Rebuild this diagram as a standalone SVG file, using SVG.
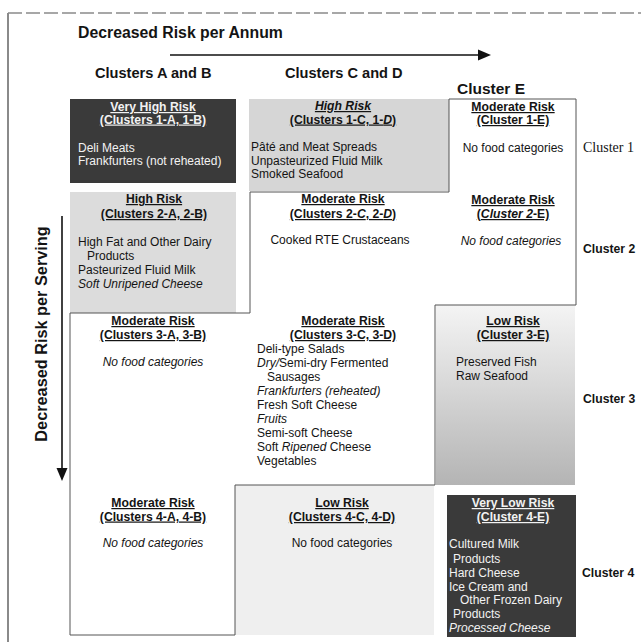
<svg xmlns="http://www.w3.org/2000/svg" width="641" height="642" viewBox="0 0 641 642">
<defs>
<style>
text{font-family:"Liberation Sans",Arial,sans-serif;fill:#141414}
.ttl{font-size:15.8px;font-weight:bold}
.col{font-size:14.6px;font-weight:bold}
.hd{font-size:12.2px;font-weight:bold;text-anchor:middle;text-decoration:underline}
.it{font-size:12px}
.c{text-anchor:middle}
.i{font-style:italic}
.wt{fill:#f2f2f2}
.lab{font-size:12.2px;font-weight:bold}
.dark{fill:#3a3a3a}
.frame{stroke:#8a8a8a;fill:none}
.conn{stroke:#111;stroke-width:1.6;fill:none}
</style>
<linearGradient id="g3e" x1="0" y1="0" x2="0" y2="1">
<stop offset="0" stop-color="#f4f4f4"/>
<stop offset="0.35" stop-color="#dedede"/>
<stop offset="1" stop-color="#b4b4b4"/>
</linearGradient>
</defs>
<rect width="641" height="642" fill="#fff"/>
<g id="frame">
<line class="frame" x1="8" y1="13" x2="641" y2="13" stroke-width="1.5" stroke-dasharray="14 4"/>
<line class="frame" x1="8" y1="13" x2="8" y2="642" stroke-width="2"/>
</g>
<g id="titles">
<text class="ttl" x="78" y="38">Decreased Risk per Annum</text>
<text class="col" x="95" y="78">Clusters A and B</text>
<text class="col" x="285" y="78">Clusters C and D</text>
<text class="col" x="457" y="94" style="font-size:15.5px">Cluster E</text>
<text class="ttl" transform="translate(47,334) rotate(-90)" text-anchor="middle" style="font-size:16.3px">Decreased Risk per Serving</text>
</g>
<g id="connectors">
<line class="conn" x1="170" y1="55" x2="480" y2="55"/>
<polygon points="491,55 478,49.5 478,60.5" fill="#111"/>
<line class="conn" x1="62" y1="216" x2="62" y2="470"/>
<polygon points="62,481 56.5,468 67.5,468" fill="#111"/>
</g>
<g id="backgrounds">
<rect x="249" y="99" width="200" height="92" fill="#d6d6d6"/>
<rect x="70" y="192" width="166" height="121" fill="#dcdcdc"/>
<rect x="436" y="305" width="139" height="180" fill="url(#g3e)"/>
<rect x="235" y="485" width="199" height="150" fill="#efefef"/>
<path d="M449,99 H576 V305 H435 V485 H235 V635 H70 V313 H250 V192 H449 Z" fill="#fff" stroke="#555" stroke-width="1"/>
</g>
<g id="cell-1AB">
<rect class="dark" x="70" y="99" width="166" height="84"/>
<text class="hd wt" x="153" y="111">Very High Risk</text>
<text class="hd wt" x="153" y="123.5">(Clusters 1-A, 1-B)</text>
<text class="it wt" x="78" y="152">Deli Meats</text>
<text class="it wt" x="78" y="165">Frankfurters (not reheated)</text>
</g>
<g id="cell-1CD">
<text class="hd i" x="343" y="110">High Risk</text>
<text class="hd" x="343" y="123.5">(Clusters 1-C, 1-<tspan class="i">D</tspan>)</text>
<text class="it" x="251" y="151">Pâté and Meat Spreads</text>
<text class="it" x="251" y="164.5">Unpasteurized Fluid Milk</text>
<text class="it" x="251" y="178">Smoked Seafood</text>
</g>
<g id="cell-1E">
<text class="hd" x="513" y="111">Moderate Risk</text>
<text class="hd" x="513" y="124">(Cluster 1-E)</text>
<text class="it c" x="513" y="152">No food categories</text>
</g>
<g id="cell-2AB">
<text class="hd" x="154" y="203">High Risk</text>
<text class="hd" x="154" y="218">(Clusters 2-A, 2-B)</text>
<text class="it" x="78" y="246">High Fat and Other Dairy</text>
<text class="it" x="87" y="259.5">Products</text>
<text class="it" x="78" y="274">Pasteurized Fluid Milk</text>
<text class="it i" x="78" y="288">Soft Unripened Cheese</text>
</g>
<g id="cell-2CD">
<text class="hd" x="343" y="203">Moderate Risk</text>
<text class="hd" x="343" y="218">(Clusters 2-<tspan class="i">C</tspan>, 2-<tspan class="i">D</tspan>)</text>
<text class="it c" x="340" y="244">Cooked RTE Crustaceans</text>
</g>
<g id="cell-2E">
<text class="hd" x="513" y="204">Moderate Risk</text>
<text class="hd" x="513" y="218">(<tspan class="i">Cluster 2</tspan>-E)</text>
<text class="it c i" x="511" y="245">No food categories</text>
</g>
<g id="cell-3AB">
<text class="hd" x="153" y="325">Moderate Risk</text>
<text class="hd" x="153" y="339">(Clusters 3-A, 3-B)</text>
<text class="it c i" x="153" y="366">No food categories</text>
</g>
<g id="cell-3CD">
<text class="hd" x="343" y="325">Moderate Risk</text>
<text class="hd" x="343" y="339">(Clusters 3-C, 3-D)</text>
<text class="it" x="257" y="353">Deli-type Salads</text>
<text class="it" x="257" y="367"><tspan class="i">Dry/</tspan>Semi-dry Fermented</text>
<text class="it" x="267" y="381">Sausages</text>
<text class="it i" x="257" y="395">Frankfurters (reheated)</text>
<text class="it" x="257" y="409">Fresh Soft Cheese</text>
<text class="it i" x="257" y="423">Fruits</text>
<text class="it" x="257" y="437">Semi-soft Cheese</text>
<text class="it" x="257" y="451">Soft <tspan class="i">Ripened</tspan> Cheese</text>
<text class="it" x="257" y="465">Vegetables</text>
</g>
<g id="cell-3E">
<text class="hd" x="513" y="325">Low Risk</text>
<text class="hd" x="513" y="339">(Cluster 3-E)</text>
<text class="it" x="456" y="366">Preserved Fish</text>
<text class="it" x="456" y="380">Raw Seafood</text>
</g>
<g id="cell-4AB">
<text class="hd" x="153" y="507">Moderate Risk</text>
<text class="hd" x="153" y="520.5">(Clusters 4-A, 4-B)</text>
<text class="it c i" x="153" y="547">No food categories</text>
</g>
<g id="cell-4CD">
<text class="hd" x="342" y="507">Low Risk</text>
<text class="hd" x="342" y="521">(Clusters 4-C, 4-D)</text>
<text class="it c" x="342" y="547">No food categories</text>
</g>
<g id="cell-4E">
<rect class="dark" x="447" y="495" width="129" height="142"/>
<text class="hd wt" x="513" y="507">Very Low Risk</text>
<text class="hd wt" x="513" y="521">(Cluster 4-E)</text>
<text class="it wt" x="449" y="548">Cultured Milk</text>
<text class="it wt" x="453" y="562.5">Products</text>
<text class="it wt" x="449" y="577">Hard Cheese</text>
<text class="it wt" x="449" y="590.5">Ice Cream and</text>
<text class="it wt" x="460" y="604">Other Frozen Dairy</text>
<text class="it wt" x="453" y="618">Products</text>
<text class="it wt i" x="449" y="632">Processed Cheese</text>
</g>
<g id="row-labels">
<text x="583" y="152" style="font-family:'Liberation Serif','Times New Roman',serif;font-size:14px">Cluster 1</text>
<text class="lab" x="583" y="253">Cluster 2</text>
<text class="lab" x="583" y="403">Cluster 3</text>
<text class="lab" x="582" y="577">Cluster 4</text>
</g>
</svg>
